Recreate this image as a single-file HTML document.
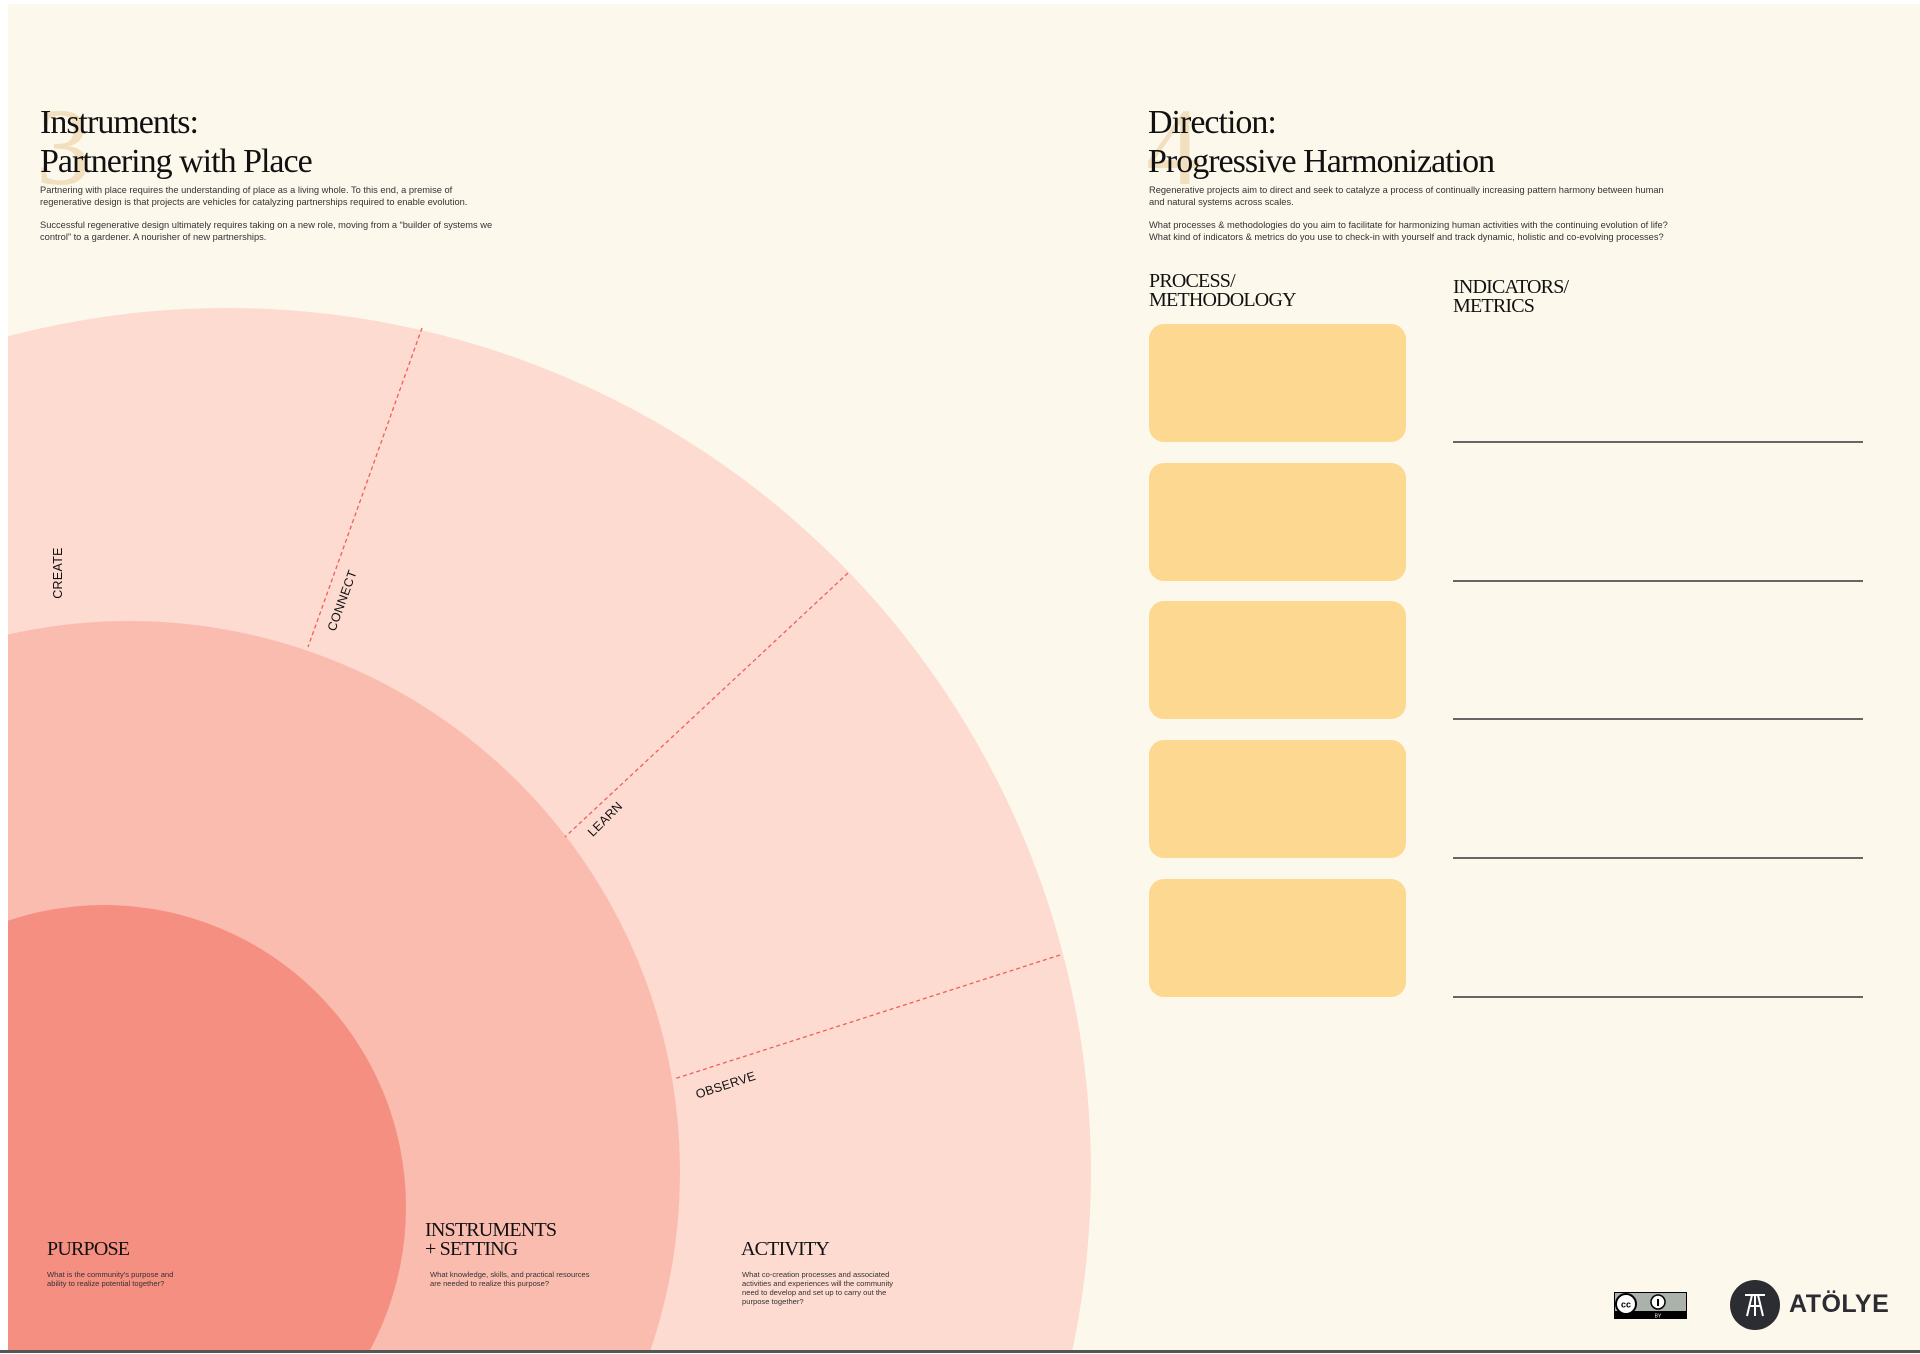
<!DOCTYPE html>
<html><head><meta charset="utf-8"><style>
html,body{margin:0;padding:0;width:1920px;height:1354px;overflow:hidden}
body{position:relative;background:#fff;font-family:"Liberation Sans",sans-serif;color:#222}
#paper{position:absolute;left:8px;top:4px;width:1912px;height:1346px;background:#fdf8ec}
#bline{position:absolute;left:0;top:1350px;width:1920px;height:3px;background:#555}
.abs{position:absolute}
.serif{font-family:"Liberation Serif",serif;font-weight:normal;color:#111}
.ghost{font-family:"Liberation Serif",serif;color:#f1dfbd;font-size:110px;line-height:1}
.title{font-size:34px;line-height:39px;letter-spacing:-1px}
.body{font-size:9.3px;line-height:11.8px;color:#333}
.box{position:absolute;left:1149px;width:257px;height:118px;border-radius:15px;background:#fdd891}
.line{position:absolute;left:1453px;width:410px;height:1.5px;background:#666}
.sub{font-size:20px;line-height:19px;letter-spacing:-0.8px}
.small{font-size:7.6px;line-height:9px;color:#333}
</style></head><body>
<div id="paper"></div>
<svg class="abs" style="left:0;top:0" width="1920" height="1354">
<defs><clipPath id="c"><rect x="8" y="4" width="1912" height="1346"/></clipPath></defs>
<g clip-path="url(#c)">
<circle cx="227" cy="1172" r="864" fill="#fddbd0"/>
<circle cx="129" cy="1172" r="551" fill="#fbbcb0"/>
<circle cx="104" cy="1207" r="302" fill="#f58f81"/>
<g stroke="#ee5f5a" stroke-width="1.3" stroke-dasharray="4,3">
<line x1="422" y1="328" x2="308" y2="647"/>
<line x1="848" y1="573" x2="565" y2="837"/>
<line x1="1060" y1="955" x2="674" y2="1079"/>
</g>
<g font-family="Liberation Sans,sans-serif" font-size="12.5" fill="#111" letter-spacing="0.3">
<text transform="translate(62,573) rotate(-90)" text-anchor="middle">CREATE</text>
<text transform="translate(346,602) rotate(-70)" text-anchor="middle">CONNECT</text>
<text transform="translate(608,822) rotate(-45)" text-anchor="middle">LEARN</text>
<text transform="translate(727,1089) rotate(-18)" text-anchor="middle">OBSERVE</text>
</g>
</g>
</svg>

<div class="abs ghost" style="left:36px;top:92px">3</div>
<div class="abs serif title" style="left:40px;top:103px">Instruments:<br>Partnering with Place</div>
<div class="abs body" style="left:40px;top:185px;width:455px">Partnering with place requires the understanding of place as a living whole. To this end, a premise of regenerative design is that projects are vehicles for catalyzing partnerships required to enable evolution.<br><br>Successful regenerative design ultimately requires taking on a new role, moving from a “builder of systems we control” to a gardener. A nourisher of new partnerships.</div>

<div class="abs ghost" style="left:1146px;top:92px">4</div>
<div class="abs serif title" style="left:1148px;top:103px">Direction:<br>Progressive Harmonization</div>
<div class="abs body" style="left:1149px;top:185px;width:530px">Regenerative projects aim to direct and seek to catalyze a process of continually increasing pattern harmony between human and natural systems across scales.<br><br>What processes &amp; methodologies do you aim to facilitate for harmonizing human activities with the continuing evolution of life? What kind of indicators &amp; metrics do you use to check-in with yourself and track dynamic, holistic and co-evolving processes?</div>

<div class="abs serif sub" style="left:1149px;top:272px">PROCESS/<br>METHODOLOGY</div>
<div class="abs serif sub" style="left:1453px;top:278px">INDICATORS/<br>METRICS</div>

<div class="box" style="top:324px"></div>
<div class="box" style="top:463px"></div>
<div class="box" style="top:601px"></div>
<div class="box" style="top:740px"></div>
<div class="box" style="top:879px"></div>
<div class="line" style="top:441px"></div>
<div class="line" style="top:580px"></div>
<div class="line" style="top:718px"></div>
<div class="line" style="top:857px"></div>
<div class="line" style="top:996px"></div>

<div class="abs serif sub" style="left:47px;top:1240px">PURPOSE</div>
<div class="abs small" style="left:47px;top:1270px;width:145px">What is the community's purpose and ability to realize potential together?</div>
<div class="abs serif sub" style="left:425px;top:1221px">INSTRUMENTS<br>+ SETTING</div>
<div class="abs small" style="left:430px;top:1270px;width:170px">What knowledge, skills, and practical resources are needed to realize this purpose?</div>
<div class="abs serif sub" style="left:741px;top:1240px">ACTIVITY</div>
<div class="abs small" style="left:742px;top:1270px;width:155px">What co-creation processes and associated activities and experiences will the community need to develop and set up to carry out the purpose together?</div>

<svg class="abs" style="left:1614px;top:1292px" width="76" height="30">
<rect x="0.5" y="0.5" width="72" height="26" fill="#aab2ab" stroke="#000"/>
<rect x="0.5" y="19" width="72" height="8" fill="#000"/>
<circle cx="12" cy="12" r="10" fill="#fff" stroke="#000" stroke-width="2"/>
<text x="12" y="15.5" font-size="9" font-weight="bold" text-anchor="middle" font-family="Liberation Sans,sans-serif">cc</text>
<circle cx="44" cy="10" r="7" fill="#fff" stroke="#000" stroke-width="1.5"/>
<rect x="43" y="7" width="2" height="7" fill="#000"/>
<text x="44" y="25.5" font-size="5" fill="#fff" text-anchor="middle" font-family="Liberation Sans,sans-serif">BY</text>
</svg>
<svg class="abs" style="left:1728px;top:1278px" width="54" height="54">
<circle cx="27" cy="27" r="25" fill="#2c2c33"/>
<g stroke="#fff" stroke-width="2" fill="none"><line x1="17" y1="17" x2="37" y2="17"/><line x1="24" y1="17" x2="19" y2="38"/><line x1="30" y1="17" x2="35" y2="38"/><line x1="27" y1="17" x2="27" y2="38"/><line x1="21" y1="28" x2="33" y2="28"/></g>
</svg>
<div class="abs" style="left:1789px;top:1290px;font-size:25px;font-weight:bold;color:#2c2c33;letter-spacing:0.5px">ATÖLYE</div>
<div id="bline"></div>
</body></html>
